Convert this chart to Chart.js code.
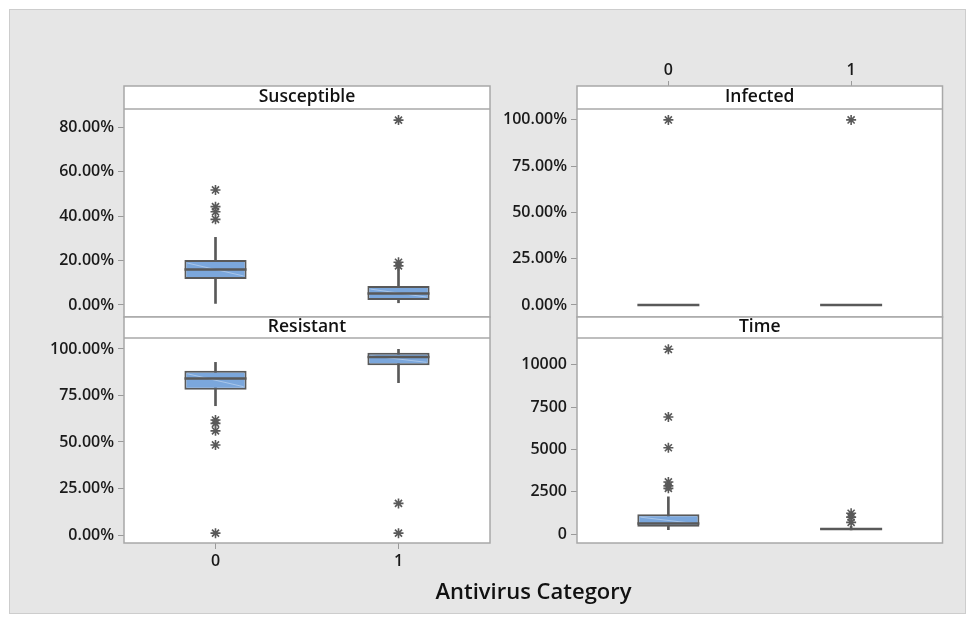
<!DOCTYPE html>
<html>
<head>
<meta charset="utf-8">
<script src="https://cdn.jsdelivr.net/npm/chart.js@4.4.0/dist/chart.umd.min.js"></script>
<style>
  body { margin: 0; background: #fff; }
  #frame { position: absolute; left: 9px; top: 9px; width: 955px; height: 603px; background: #e6e6e6; border: 1px solid #cdcdcd; }
  canvas { position: absolute; left: 0; top: 0; }
  #xtitle { position: absolute; left: 124px; width: 819px; top: 575px; line-height: 30px; text-align: center;
            font: 600 22px "Open Sans"; color: #111; }
</style>
</head>
<body>
<div id="frame"></div>
<canvas id="sus" width="976" height="624"></canvas>
<canvas id="inf" width="976" height="624"></canvas>
<canvas id="res" width="976" height="624"></canvas>
<canvas id="time" width="976" height="624"></canvas>
<div id="xtitle">Antivirus Category</div>
<script>
const groups = ['0', '1'];

// Susceptible (%)
const susQ1 = [11.7, 2.2];
const susMedian = [15.9, 5.2];
const susQ3 = [20.2, 8.5];
const susLow = [0.7, 1.0];
const susHigh = [30.4, 16.5];
const susOutliers = [[51.7, 44.2, 41.9, 38.5], [17.6, 19.2, 83.1]];
const susTicks = [0, 20, 40, 60, 80];

// Infected (%)
const infQ1 = [0, 0];
const infMedian = [0, 0];
const infQ3 = [0, 0];
const infLow = [0, 0];
const infHigh = [0, 0];
const infOutliers = [[100], [100]];
const infTicks = [0, 25, 50, 75, 100];

// Resistant (%)
const resQ1 = [78.1, 91.2];
const resMedian = [84.1, 95.7];
const resQ3 = [88.3, 98.0];
const resLow = [69.5, 81.9];
const resHigh = [92.8, 99.8];
const resOutliers = [[61.8, 60.0, 56.0, 48.4, 1.0], [17.0, 1.0]];
const resTicks = [0, 25, 50, 75, 100];

// Time
const timeQ1 = [431, 260];
const timeMedian = [629, 300];
const timeQ3 = [1176, 340];
const timeLow = [255, 240];
const timeHigh = [2196, 450];
const timeOutliers = [[10920, 6920, 5100, 3080, 2850, 2700], [1230, 1000, 690]];
const timeTicks = [0, 2500, 5000, 7500, 10000];

const lineGray = '#595959';
const boxBlue = '#7ba7dc';
const tickFont = { family: 'Open Sans', size: 16, weight: '600' };

const pct = v => v.toFixed(2) + '%';
const plain = v => String(v);

// white plot area, strip header and frame round each panel
const panelFrame = {
  id: 'panelFrame',
  beforeDraw(chart) {
    const a = chart.chartArea;
    chart.ctx.save();
    chart.ctx.fillStyle = '#fff';
    chart.ctx.fillRect(a.left, a.top, a.right - a.left, a.bottom - a.top);
    chart.ctx.restore();
  },
  afterDatasetDraw(chart, args) {
    if (args.index !== 1) return;
    const ctx = chart.ctx;
    ctx.save();
    ctx.strokeStyle = 'rgba(255,255,255,0.35)';
    ctx.lineWidth = 1;
    args.meta.data.forEach(bar => {
      const top = Math.min(bar.y, bar.base), bottom = Math.max(bar.y, bar.base);
      if (bottom - top < 6) return;
      ctx.beginPath();
      ctx.moveTo(bar.x - bar.width / 2 + 3, top + 3);
      ctx.lineTo(bar.x + bar.width / 2 - 3, bottom - 3);
      ctx.stroke();
    });
    ctx.restore();
  },
  afterDraw(chart, args, opts) {
    const {ctx, chartArea: a} = chart;
    const h = opts.header;
    ctx.save();
    ctx.fillStyle = '#fff';
    ctx.fillRect(a.left, a.top - h, a.right - a.left, h);
    ctx.strokeStyle = '#a8a8a8';
    ctx.lineWidth = 1.5;
    ctx.strokeRect(a.left, a.top - h, a.right - a.left, a.bottom - a.top + h);
    ctx.beginPath();
    ctx.moveTo(a.left, a.top);
    ctx.lineTo(a.right, a.top);
    ctx.stroke();
    ctx.fillStyle = '#111';
    ctx.font = '600 17.5px "Open Sans"';
    ctx.textAlign = 'center';
    ctx.textBaseline = 'middle';
    ctx.fillText(opts.title, (a.left + a.right) / 2, a.top - h / 2);
    ctx.restore();
  }
};

function boxDatasets(q1, med, q3, lo, hi, outliers) {
  let outPts = [];
  outliers.forEach((list, i) => list.forEach(v => outPts.push({x: groups[i], y: v})));
  return [
    { type: 'bar', data: lo.map((v, i) => [v, hi[i]]), backgroundColor: lineGray, barThickness: 2, order: 4 },
    { type: 'bar', data: q1.map((v, i) => [v, q3[i]]), backgroundColor: boxBlue, borderColor: lineGray,
      borderWidth: 2, borderSkipped: false, barPercentage: 0.34, categoryPercentage: 1, order: 3 },
    { type: 'line', data: med.map((v, i) => ({x: groups[i], y: v})), showLine: false, pointStyle: 'line',
      pointRadius: 31, pointBorderWidth: 2.5, pointBorderColor: lineGray, order: 2 },
    { type: 'line', data: outPts, showLine: false, pointStyle: 'star', pointRadius: 5,
      pointBorderWidth: 1.6, pointBorderColor: lineGray, order: 1 }
  ];
}

function makePanel(id, p) {
  const axisH = p.xAxis === 'top' ? 60 : (p.xAxis === 'bottom' ? 40 : 0);
  new Chart(document.getElementById(id), {
    type: 'bar',
    data: { labels: groups, datasets: p.datasets },
    plugins: [panelFrame],
    options: {
      responsive: false,
      animation: false,
      layout: {
        padding: {
          left: p.left - 90,
          right: 976 - p.right,
          top: p.top - (p.xAxis === 'top' ? axisH : 0),
          bottom: 624 - p.bottom - (p.xAxis === 'bottom' ? axisH : 0)
        }
      },
      datasets: { bar: { grouped: false } },
      plugins: {
        legend: { display: false },
        tooltip: { enabled: false },
        panelFrame: { title: p.title, header: p.header }
      },
      scales: {
        x: {
          display: p.xAxis !== 'none',
          position: p.xAxis === 'top' ? 'top' : 'bottom',
          offset: true,
          grid: { offset: false, drawOnChartArea: false, color: '#9a9a9a',
                  tickLength: p.xAxis === 'top' ? p.header + 5 : 6 },
          border: { display: false },
          ticks: { font: tickFont, color: '#1a1a1a', padding: p.xAxis === 'top' ? 1 : 3 },
          afterFit: s => { s.height = axisH; }
        },
        y: {
          min: p.min,
          max: p.max,
          afterBuildTicks: s => { s.ticks = p.ticks.map(v => ({value: v})); },
          grid: { drawOnChartArea: false, tickLength: 6, color: '#9a9a9a' },
          border: { display: false },
          ticks: { font: tickFont, color: '#1a1a1a', padding: 4, callback: p.fmt },
          afterFit: s => { s.width = 90; }
        }
      }
    }
  });
}

makePanel('sus', { title: 'Susceptible', header: 23, left: 124, right: 490, top: 109, bottom: 317,
  min: -5.4, max: 88.1, ticks: susTicks, fmt: pct, xAxis: 'none',
  datasets: boxDatasets(susQ1, susMedian, susQ3, susLow, susHigh, susOutliers) });

makePanel('inf', { title: 'Infected', header: 23, left: 577, right: 943, top: 109, bottom: 317,
  min: -6.5, max: 105.9, ticks: infTicks, fmt: pct, xAxis: 'top',
  datasets: boxDatasets(infQ1, infMedian, infQ3, infLow, infHigh, infOutliers) });

makePanel('res', { title: 'Resistant', header: 21, left: 124, right: 490, top: 338, bottom: 543,
  min: -4.3, max: 105.9, ticks: resTicks, fmt: pct, xAxis: 'bottom',
  datasets: boxDatasets(resQ1, resMedian, resQ3, resLow, resHigh, resOutliers) });

makePanel('time', { title: 'Time', header: 21, left: 577, right: 943, top: 338, bottom: 543,
  min: -529, max: 11588, ticks: timeTicks, fmt: plain, xAxis: 'none',
  datasets: boxDatasets(timeQ1, timeMedian, timeQ3, timeLow, timeHigh, timeOutliers) });
</script>
</body>
</html>
